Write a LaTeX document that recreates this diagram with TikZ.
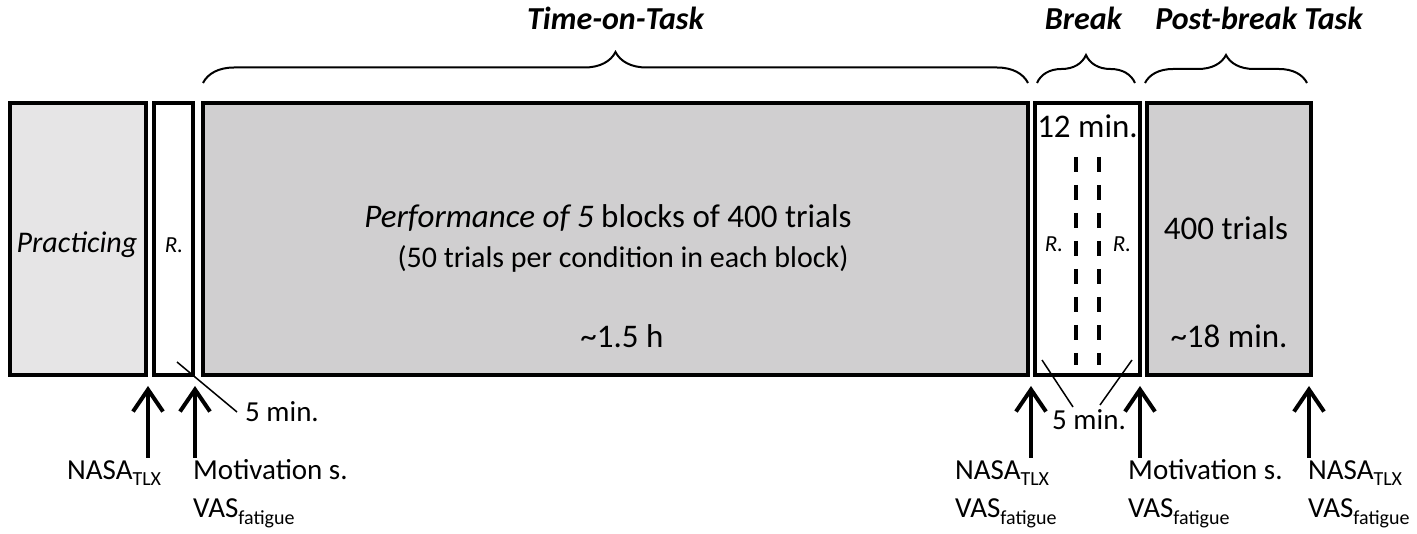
\documentclass[tikz,border=0pt]{standalone}
\usepackage{fontspec}
\setmainfont{Carlito}
\usetikzlibrary{arrows.meta,decorations.pathreplacing}
\definecolor{lightfill}{HTML}{E6E5E6}
\definecolor{darkfill}{HTML}{D0CFD0}
\newcommand{\subl}[1]{\raisebox{-6pt}{\fontsize{20}{24}\selectfont #1}}
\tikzset{
 box/.style={draw=black, line width=4pt, anchor=north west, inner sep=0pt, outer sep=0pt},
 body/.style={font=\fontsize{33}{38}\selectfont, inner sep=0pt, anchor=base},
 bodysmall/.style={font=\fontsize{30}{36}\selectfont, inner sep=0pt, anchor=base},
 lab/.style={font=\fontsize{29}{34}\selectfont, inner sep=0pt, anchor=base west},
 titletext/.style={font=\fontsize{32}{38}\selectfont\bfseries\itshape, inner sep=0pt, anchor=base},
 rsmall/.style={font=\fontsize{23}{27}\selectfont\itshape, inner sep=0pt, anchor=base},
 uparrow/.style={line width=4pt, -{Straight Barb[length=22pt,width=30pt,line width=4pt]}},
 bracestyle/.style={line width=2pt, decorate, decoration={brace, amplitude=28pt}},
 thinline/.style={line width=1.5pt},
 breakdash/.style={line width=3.5pt, dash pattern=on 15pt off 13pt},
}
\begin{document}
\begin{tikzpicture}[x=1pt,y=-1pt]
\useasboundingbox (0,0) rectangle (1417,534);
% boxes
\node[box, fill=lightfill, minimum width=136pt, minimum height=271.5pt] (prac) at (10,103.5) {};
\node[box, fill=white, minimum width=39pt, minimum height=271.5pt] (rest1) at (154,103.5) {};
\node[box, fill=darkfill, minimum width=825pt, minimum height=271.5pt] (main) at (203,103.5) {};
\node[box, fill=white, minimum width=105pt, minimum height=271.5pt] (brk) at (1035,103.5) {};
\node[box, fill=darkfill, minimum width=164pt, minimum height=271.5pt] (post) at (1147,103.5) {};
% dashed lines in break
\coordinate (d1t) at (1076,157); \coordinate (d1b) at (1076,365);
\coordinate (d2t) at (1099,157); \coordinate (d2b) at (1099,365);
\draw[breakdash] (d1t) -- (d1b);
\draw[breakdash] (d2t) -- (d2b);
% texts in boxes
\node[body, font=\fontsize{30}{36}\selectfont\itshape] (practxt) at (77,253) {Practicing};
\node[rsmall] (r1) at (174,253) {R.};
\node[body] (perf) at (608,228) {\textit{Performance of 5} blocks of 400 trials};
\node[bodysmall] (perf2) at (623,268) {(50 trials per condition in each block)};
\node[body] (dur1) at (622,348) {\textasciitilde 1.5 h};
\node[body] (twelve) at (1087.5,138) {12 min.};
\node[rsmall] (r2) at (1054,252) {R.};
\node[rsmall] (r3) at (1122,252) {R.};
\node[body] (fourh) at (1226,240) {400 trials};
\node[body] (dur2) at (1229,348) {\textasciitilde 18 min.};
% titles and braces
\node[titletext] (tot) at (615.5,30) {Time-on-Task};
\node[titletext] (brkt) at (1083.5,30) {Break};
\node[titletext] (postt) at (1259,30) {Post-break Task};
\coordinate (b1l) at (203,83); \coordinate (b1r) at (1028,83);
\coordinate (b2l) at (1037,83); \coordinate (b2r) at (1135,83);
\coordinate (b3l) at (1145,83); \coordinate (b3r) at (1307,83);
\draw[bracestyle, decoration={amplitude=31pt}] (b1l) -- (b1r);
\draw[bracestyle] (b2l) -- (b2r);
\draw[bracestyle] (b3l) -- (b3r);
% 5 min labels
\node[lab] (five1) at (245,422) {5 min.};
\node[lab] (five2) at (1052,430) {5 min.};
\coordinate (l1a) at (177,362); \coordinate (l1b) at (237,412);
\coordinate (l2a) at (1042,360); \coordinate (l2b) at (1073,407);
\coordinate (l3a) at (1132,360); \coordinate (l3b) at (1100,405);
\draw[thinline] (l1a) -- (l1b);
\draw[thinline] (l2a) -- (l2b);
\draw[thinline] (l3a) -- (l3b);
% arrows
\foreach \n/\x in {1/148,2/195,3/1031,4/1140,5/1309}{
  \coordinate (ab\n) at (\x,458); \coordinate (at\n) at (\x,386);
  \draw[uparrow] (ab\n) -- (at\n);
}
% bottom labels
\node[lab] (nasa1) at (67,479) {NASA\subl{TLX}};
\node[lab] (mot1) at (193,479) {Motivation s.};
\node[lab] (vas1) at (193,518) {VAS\subl{fatigue}};
\node[lab] (nasa2) at (955,479) {NASA\subl{TLX}};
\node[lab] (vas2) at (955,518) {VAS\subl{fatigue}};
\node[lab] (mot2) at (1128,479) {Motivation s.};
\node[lab] (vas3) at (1128,518) {VAS\subl{fatigue}};
\node[lab] (nasa3) at (1308,479) {NASA\subl{TLX}};
\node[lab] (vas4) at (1308,518) {VAS\subl{fatigue}};
\end{tikzpicture}
\end{document}
